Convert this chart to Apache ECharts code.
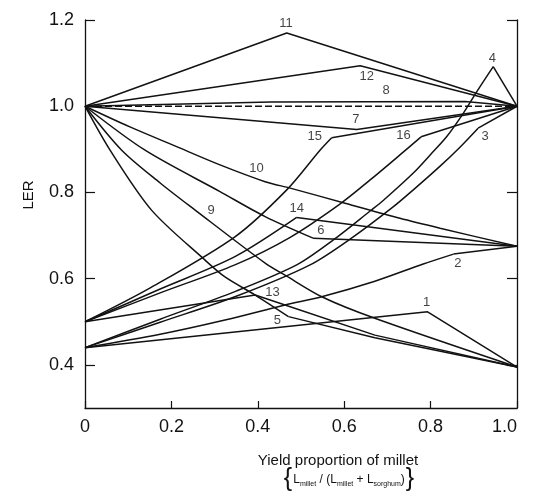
<!DOCTYPE html>
<html>
<head>
<meta charset="utf-8">
<script src="https://cdn.jsdelivr.net/npm/echarts@6/dist/echarts.min.js"></script>
<style>
html,body{margin:0;padding:0;background:#fff;}
#chart{width:533px;height:499px;}
</style>
</head>
<body>
<div id="chart"></div>
<script>
// ---- data ----
const xTicks = [0, 0.2, 0.4, 0.6, 0.8, 1.0];
const yTicks = [0.4, 0.6, 0.8, 1.0, 1.2];

const soleLine = [[0,1.0],[1,1.0]]; // dashed reference line

const line1  = [[0,0.44],[0.793,0.523],[1,0.395]];
const line2  = [[0,0.44],[0.174,0.471],[0.324,0.504],[0.463,0.539],[0.548,0.558],[0.671,0.594],[0.783,0.634],[0.853,0.657],[1,0.675]];
const line3  = [[0,0.44],[0.174,0.499],[0.347,0.558],[0.521,0.632],[0.621,0.697],[0.714,0.767],[0.76,0.806],[0.822,0.861],[0.868,0.905],[0.91,0.949],[1,1.0]];
const line4  = [[0,0.44],[0.174,0.506],[0.347,0.57],[0.49,0.632],[0.575,0.69],[0.66,0.757],[0.691,0.782],[0.76,0.845],[0.799,0.887],[0.837,0.929],[0.876,0.984],[0.907,1.034],[0.945,1.092],[1,1.0]];
const line5  = [[0,1.0],[0.058,0.898],[0.154,0.759],[0.278,0.643],[0.324,0.604],[0.394,0.562],[0.471,0.512],[0.671,0.463],[1,0.395]];
const line6  = [[0,1.0],[0.139,0.898],[0.3125,0.802],[0.417,0.744],[0.528,0.694],[1,0.675]];
const line7  = [[0,1.0],[0.629,0.946],[1,1.0]];
const line8  = [[0,1.0],[0.43,1.01],[0.88,1.011],[1,1.0]];
const line9  = [[0,1.0],[0.085,0.898],[0.174,0.822],[0.255,0.759],[0.417,0.636],[0.463,0.608],[0.548,0.558],[0.671,0.508],[1,0.395]];
const line10 = [[0,1.0],[0.104,0.952],[0.208,0.908],[0.3125,0.864],[0.417,0.825],[0.475,0.81],[0.602,0.775],[0.729,0.74],[0.822,0.717],[1,0.675]];
const line11 = [[0,1.0],[0.467,1.17],[1,1.0]];
const line12 = [[0,1.0],[0.637,1.094],[1,1.0]];
const line13 = [[0,0.5],[0.394,0.562],[0.463,0.539],[0.671,0.469],[1,0.395]];
const line14 = [[0,0.5],[0.174,0.576],[0.347,0.651],[0.49,0.742],[1,0.675]];
const line15 = [[0,0.5],[0.15,0.578],[0.347,0.697],[0.467,0.806],[0.544,0.898],[0.571,0.927],[1,1.0]];
const line16 = [[0,0.5],[0.174,0.567],[0.347,0.632],[0.475,0.696],[0.59,0.773],[0.66,0.829],[0.729,0.887],[0.778,0.929],[1,1.0]];

// index of the last point of the curved part of each line (0 = straight segments only)
const curveEnd = [0, 7, 9, 12, 6, 4, 0, 0, 8, 9, 0, 0, 0, 3, 5, 7];

const labelText = ['1','2','3','4','5','6','7','8','9','10','11','12','13','14','15','16'];
const labelX = [0.791,0.863,0.926,0.943,0.445,0.546,0.627,0.697,0.292,0.397,0.465,0.652,0.434,0.490,0.532,0.737];
const labelY = [0.544,0.635,0.931,1.111,0.502,0.713,0.970,1.036,0.759,0.856,1.191,1.068,0.568,0.763,0.931,0.933];

const xTitle = 'Yield proportion of millet';
const yTitle = 'LER';

// ---- chart ----
const FONT = '"Liberation Sans", Arial, Helvetica, sans-serif';
const INK = '#121212';
const lines = [line1,line2,line3,line4,line5,line6,line7,line8,line9,line10,line11,line12,line13,line14,line15,line16];

const series = [];
lines.forEach((d, i) => {
  const k = curveEnd[i];
  if (k > 0) {
    series.push({ type: 'line', data: d.slice(0, k + 1), smooth: 0.3, showSymbol: false, silent: true,
      lineStyle: { color: INK, width: 1.5 }, z: 3 });
  }
  if (k < d.length - 1) {
    series.push({ type: 'line', data: d.slice(k), showSymbol: false, silent: true,
      lineStyle: { color: INK, width: 1.5 }, z: 3 });
  }
});
series.push({
  type: 'line', data: soleLine, showSymbol: false, silent: true,
  lineStyle: { color: INK, width: 1.5, type: [7, 3] }, z: 3
});
series.push({
  type: 'scatter', symbolSize: 0, silent: true, z: 5,
  data: labelText.map((t, i) => [labelX[i], labelY[i], t]),
  label: {
    show: true, position: 'inside', formatter: p => p.value[2],
    color: INK, fontSize: 13, fontFamily: FONT
  }
});

const chart = echarts.init(document.getElementById('chart'), null, { renderer: 'canvas' });
chart.setOption({
  animation: false,
  backgroundColor: '#fff',
  grid: { left: 85, right: 16, top: 20, bottom: 91 },
  xAxis: {
    type: 'value', min: 0, max: 1, interval: 0.2,
    axisLine: { show: true, onZero: false, lineStyle: { color: INK, width: 1.3 } },
    axisTick: { show: true, inside: true, length: 7, lineStyle: { color: INK, width: 1.2 } },
    axisLabel: {
      color: INK, fontSize: 18, fontFamily: FONT, margin: 10, alignMaxLabel: 'right',
      formatter: v => v === 0 ? '0' : v.toFixed(1)
    },
    splitLine: { show: false }
  },
  yAxis: [{
    type: 'value', min: 0.3, max: 1.2, position: 'left',
    axisLine: { show: true, onZero: false, lineStyle: { color: INK, width: 1.3 } },
    axisTick: { show: true, inside: true, length: 10, customValues: yTicks, lineStyle: { color: INK, width: 1.2 } },
    axisLabel: {
      color: INK, fontSize: 18, fontFamily: FONT, margin: 11, customValues: yTicks,
      formatter: v => v.toFixed(1)
    },
    splitLine: { show: false }
  }, {
    type: 'value', min: 0.3, max: 1.2, position: 'right',
    axisLine: { show: true, onZero: false, lineStyle: { color: INK, width: 1.3 } },
    axisTick: { show: true, inside: true, length: 10, customValues: yTicks, lineStyle: { color: INK, width: 1.2 } },
    axisLabel: { show: false },
    splitLine: { show: false }
  }],
  series: series,
  graphic: [
    { type: 'text', x: 29, y: 195, rotation: Math.PI / 2,
      style: { text: yTitle, fill: INK, fontSize: 15, fontFamily: FONT,
               align: 'center', verticalAlign: 'middle', textAlign: 'center', textVerticalAlign: 'middle' } },
    { type: 'text', x: 338, y: 461,
      style: { text: xTitle, fill: INK, fontSize: 15, fontFamily: FONT,
               align: 'center', verticalAlign: 'middle', textAlign: 'center', textVerticalAlign: 'middle' } },
    { type: 'text', x: 288, y: 479,
      style: { text: '{', fill: INK, fontSize: 25, fontFamily: FONT,
               align: 'center', verticalAlign: 'middle', textAlign: 'center', textVerticalAlign: 'middle' } },
    { type: 'text', x: 410, y: 479,
      style: { text: '}', fill: INK, fontSize: 25, fontFamily: FONT,
               align: 'center', verticalAlign: 'middle', textAlign: 'center', textVerticalAlign: 'middle' } },
    { type: 'text', x: 349, y: 480,
      style: {
        text: '{L|L}{s|millet}{n| / (}{L|L}{s|millet}{n| + }{L|L}{s|sorghum}{n|)}',
        fill: INK, fontFamily: FONT, fontSize: 12,
        align: 'center', verticalAlign: 'middle', textAlign: 'center', textVerticalAlign: 'middle',
        rich: {
          L: { fontSize: 12, fontFamily: FONT, fill: INK, color: INK, lineHeight: 16 },
          n: { fontSize: 12, fontFamily: FONT, fill: INK, color: INK, lineHeight: 16 },
          s: { fontSize: 7, fontFamily: FONT, fill: INK, color: INK, verticalAlign: 'bottom' }
        }
      } }
  ]
});
</script>
</body>
</html>
